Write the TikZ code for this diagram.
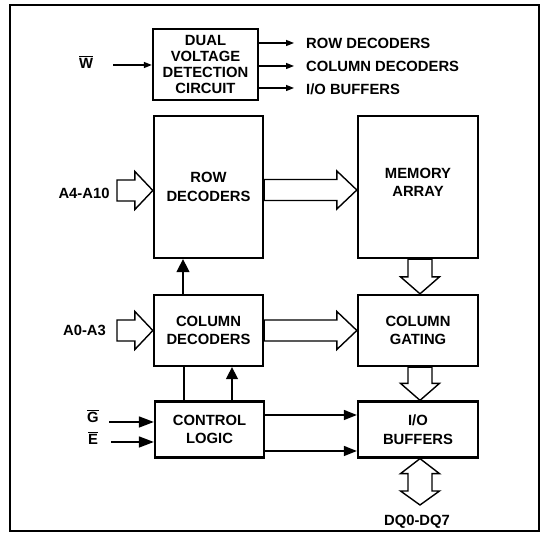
\documentclass[tikz,border=0pt]{standalone}
\usepackage{fontspec}
\setmainfont{Liberation Sans}
\usetikzlibrary{arrows.meta,calc}
\newcommand\fatR[3]{\draw[fat] let \p1=(#1), \p2=(#2) in
  (\x1,\y1+10.5pt) -- (\x2-#3,\y1+10.5pt) -- (\x2-#3,\y1+19pt) -- (\x2,\y1)
  -- (\x2-#3,\y1-19pt) -- (\x2-#3,\y1-10.5pt) -- (\x1,\y1-10.5pt) -- cycle;}
\newcommand\fatD[2]{\draw[fat] let \p1=(#1), \p2=(#2) in
  (\x1-12pt,\y1) -- (\x1-12pt,\y2+17pt) -- (\x1-19.5pt,\y2+17pt) -- (\x1,\y2)
  -- (\x1+19.5pt,\y2+17pt) -- (\x1+12pt,\y2+17pt) -- (\x1+12pt,\y1) -- cycle;}
\newcommand\fatUD[2]{\draw[fat] let \p1=(#1), \p2=(#2) in
  (\x1,\y1) -- (\x1+19.5pt,\y1-15pt) -- (\x1+12pt,\y1-15pt) -- (\x1+12pt,\y2+14pt)
  -- (\x1+19.5pt,\y2+14pt) -- (\x1,\y2) -- (\x1-19.5pt,\y2+14pt) -- (\x1-12pt,\y2+14pt)
  -- (\x1-12pt,\y1-15pt) -- (\x1-19.5pt,\y1-15pt) -- cycle;}
\begin{document}
\begin{tikzpicture}[x=1pt,y=1pt,
  every node/.style={font=\bfseries\fontsize{14.8}{18.5}\selectfont},
  box/.style={draw,line width=2.3pt,inner sep=0pt,align=center},
  lbl/.style={inner sep=0pt,text height=10.6pt,text depth=0pt},
  fat/.style={draw,fill=white,line width=1.4pt,line join=miter},
  arrS/.style={line width=1.3pt,-{Triangle[length=8pt,width=6pt]}},
  arrM/.style={line width=1.5pt,-{Triangle[length=13pt,width=10pt]}},
  ln/.style={line width=1.5pt}]
\useasboundingbox (0,0) rectangle (542,534);
\draw[line width=1.2pt] (10,3) rectangle (539,529);

% boxes
\node[box,minimum width=105pt,minimum height=71pt,
  font=\bfseries\fontsize{14.8}{15.8}\selectfont] (dvd) at (205.5,469.5)
  {DUAL\\VOLTAGE\\DETECTION\\CIRCUIT};
\node[box,minimum width=109pt,minimum height=142pt] (row) at (208.5,347) {ROW\\DECODERS};
\node[box,minimum width=120pt,minimum height=142pt] (mem) at (418,347) {};
\node[align=center,inner sep=0pt] (memt) at ($(mem.center)+(0,4.5)$) {MEMORY\\ARRAY};
\node[box,minimum width=109pt,minimum height=71pt] (coldec) at (208.5,203.5) {COLUMN\\DECODERS};
\node[box,minimum width=120pt,minimum height=71pt] (colgat) at (418,203.5) {COLUMN\\GATING};
\node[box,minimum width=109pt,minimum height=56pt] (ctrl) at (209.5,104.5) {CONTROL\\LOGIC};
\node[box,minimum width=120pt,minimum height=56pt] (iob) at (418,104.5) {I/O\\BUFFERS};

% W input and DVD outputs
\node[inner sep=0pt] (w) at (86,472) {$\overline{\hbox{W}}$};
\coordinate (ws) at (113,469);
\draw[arrS] (ws) -- (dvd.west |- ws);
\coordinate (o1) at (294,491);
\coordinate (o2) at (294,468);
\coordinate (o3) at (294,446);
\draw[arrS] (dvd.east |- o1) -- (o1);
\draw[arrS] (dvd.east |- o2) -- (o2);
\draw[arrS] (dvd.east |- o3) -- (o3);
\node[lbl,anchor=west] (l1) at (306,491) {ROW DECODERS};
\node[lbl,anchor=west] (l2) at (306,468) {COLUMN DECODERS};
\node[lbl,anchor=west] (l3) at (306,445) {I/O BUFFERS};

% address inputs
\node[lbl] (a4) at (84,341) {A4-A10};
\coordinate (a4t) at (117,343.5);
\fatR{a4t}{row.west |- a4t}{18pt}
\node[lbl] (a0) at (84.5,204) {A0-A3};
\coordinate (a0t) at (117,203.5);
\fatR{a0t}{coldec.west |- a0t}{18pt}

% wide horizontal buses
\coordinate (rm) at (0,344);
\fatR{row.east |- rm}{mem.west |- rm}{20pt}
\fatR{coldec.east |- a0t}{colgat.west |- a0t}{20pt}

% vertical buses
\coordinate (dx) at (420,0);
\fatD{mem.south -| dx}{colgat.north -| dx}
\fatD{colgat.south -| dx}{iob.north -| dx}
\coordinate (dq) at (420,29);
\fatUD{iob.south -| dx}{dq}
\node[lbl] (dql) at (417,14) {DQ0-DQ7};

% control lines
\coordinate (xa) at (183,0);
\coordinate (xb) at (184,0);
\coordinate (xc) at (232,0);
\draw[line width=1.5pt,-{Triangle[length=13pt,width=13pt]}] (coldec.north -| xa) -- (row.south -| xa);
\draw[ln] (ctrl.north -| xb) -- (coldec.south -| xb);
\draw[line width=1.5pt,-{Triangle[length=12pt,width=12pt]}] (ctrl.north -| xc) -- (coldec.south -| xc);

\node[inner sep=0pt] (g) at (93,118) {$\overline{\hbox{G}}$};
\node[inner sep=0pt] (e) at (93,96) {$\overline{\hbox{E}}$};
\coordinate (gs) at (109,112);
\coordinate (es) at (111,92);
\draw[line width=1.6pt,-{Triangle[length=15pt,width=11pt]}] (gs) -- (ctrl.west |- gs);
\draw[line width=1.6pt,-{Triangle[length=15pt,width=11pt]}] (es) -- (ctrl.west |- es);

\coordinate (c1) at (0,119);
\coordinate (c2) at (0,83);
\draw[arrM] (ctrl.east |- c1) -- (iob.west |- c1);
\draw[arrM] (ctrl.east |- c2) -- (iob.west |- c2);
\end{tikzpicture}
\end{document}
